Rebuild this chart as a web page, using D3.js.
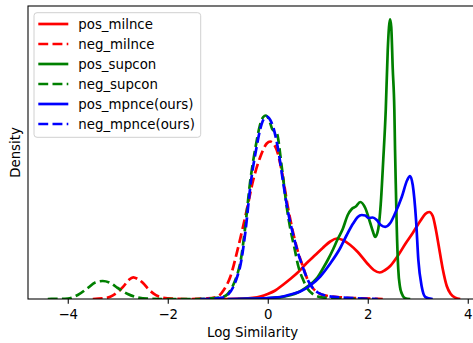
<!DOCTYPE html>
<html>
<head>
<meta charset="utf-8">
<script src="https://cdn.jsdelivr.net/npm/d3@7"></script>
<style>
  body { margin: 0; background: #fff; }
  text { font-family: "DejaVu Sans", sans-serif; }
</style>
</head>
<body>
<svg id="chart" width="473" height="343"></svg>
<script>
// legend order = plotting order
const seriesNames = ["pos_milnce", "neg_milnce", "pos_supcon", "neg_supcon", "pos_mpnce(ours)", "neg_mpnce(ours)"];
const seriesColors = ["#ff0000", "#ff0000", "#008000", "#008000", "#0000ff", "#0000ff"];
const seriesDashed = [false, true, false, true, false, true];
const xTicks = [-4, -2, 0, 2, 4];

// [log similarity, density]
const posMilnce = [[-0.9,0],[-0.5,0.004],[-0.3,0.012],[-0.15,0.025],[0,0.05],[0.15,0.085],[0.3,0.14],[0.45,0.2],[0.6,0.265],[0.78,0.36],[0.95,0.44],[1.1,0.51],[1.25,0.575],[1.38,0.605],[1.5,0.59],[1.65,0.54],[1.8,0.47],[2.0,0.35],[2.12,0.29],[2.24,0.265],[2.35,0.29],[2.45,0.33],[2.6,0.43],[2.75,0.55],[2.9,0.66],[3.05,0.78],[3.15,0.85],[3.23,0.87],[3.3,0.83],[3.36,0.7],[3.42,0.53],[3.5,0.3],[3.58,0.13],[3.66,0.05],[3.75,0.013],[3.85,0]];
const negMilnce = [[-3.5,0],[-3.3,0.006],[-3.15,0.023],[-3.0,0.07],[-2.89,0.123],[-2.78,0.19],[-2.69,0.217],[-2.6,0.2],[-2.49,0.157],[-2.39,0.1],[-2.29,0.057],[-2.19,0.027],[-2.09,0.013],[-1.9,0.003],[-1.6,0],[-1.2,0.006],[-1.0,0.025],[-0.88,0.09],[-0.75,0.22],[-0.59,0.52],[-0.42,0.89],[-0.29,1.19],[-0.15,1.42],[-0.02,1.555],[0.05,1.575],[0.12,1.55],[0.18,1.49],[0.28,1.28],[0.41,0.9],[0.5,0.68],[0.6,0.48],[0.7,0.33],[0.8,0.19],[0.9,0.11],[1.0,0.065],[1.2,0.03],[1.5,0.015],[1.9,0.006],[2.3,0]];
const posSupcon = [[-0.6,0],[-0.2,0.004],[0.1,0.012],[0.3,0.022],[0.45,0.038],[0.6,0.065],[0.75,0.11],[0.91,0.17],[1.0,0.22],[1.11,0.31],[1.2,0.39],[1.31,0.5],[1.4,0.6],[1.5,0.7],[1.6,0.84],[1.68,0.9],[1.76,0.925],[1.85,0.97],[1.95,0.91],[2.05,0.76],[2.1,0.68],[2.15,0.62],[2.21,0.7],[2.26,0.95],[2.31,1.39],[2.36,1.89],[2.4,2.49],[2.425,2.72],[2.446,2.797],[2.47,2.72],[2.5,2.3],[2.532,1.89],[2.546,1.49],[2.565,1.05],[2.58,0.72],[2.61,0.3],[2.645,0.12],[2.68,0.055],[2.75,0.007],[2.85,0]];
const negSupcon = [[-4.4,0],[-4.0,0.005],[-3.8,0.04],[-3.6,0.11],[-3.45,0.165],[-3.3,0.18],[-3.15,0.16],[-3.0,0.11],[-2.8,0.05],[-2.6,0.015],[-2.4,0.003],[-2.0,0],[-1.4,0],[-1.2,0.003],[-0.9,0.02],[-0.8,0.05],[-0.7,0.13],[-0.6,0.26],[-0.55,0.36],[-0.46,0.68],[-0.35,1.18],[-0.24,1.53],[-0.16,1.73],[-0.09,1.82],[-0.04,1.835],[0.02,1.8],[0.09,1.7],[0.18,1.66],[0.28,1.32],[0.38,0.92],[0.46,0.68],[0.53,0.52],[0.61,0.33],[0.71,0.19],[0.8,0.1],[0.9,0.05],[1.0,0.025],[1.2,0.01],[1.5,0.003],[1.9,0]];
const posMpnce = [[-0.8,0],[-0.4,0.003],[0,0.01],[0.3,0.025],[0.45,0.045],[0.65,0.075],[0.85,0.135],[1.05,0.225],[1.25,0.355],[1.45,0.51],[1.58,0.64],[1.71,0.757],[1.8,0.82],[1.88,0.84],[1.95,0.835],[2.02,0.81],[2.1,0.815],[2.18,0.79],[2.26,0.74],[2.35,0.722],[2.45,0.76],[2.55,0.86],[2.68,1.02],[2.79,1.19],[2.846,1.23],[2.9,1.14],[2.966,0.79],[3.012,0.39],[3.08,0.123],[3.146,0.023],[3.212,0.007],[3.3,0]];
const negMpnce = [[-1.35,0],[-1.1,0.004],[-0.9,0.015],[-0.8,0.04],[-0.69,0.12],[-0.6,0.24],[-0.55,0.33],[-0.45,0.66],[-0.34,1.16],[-0.23,1.5],[-0.15,1.7],[-0.08,1.8],[-0.02,1.825],[0.05,1.79],[0.12,1.7],[0.21,1.49],[0.31,1.16],[0.41,0.86],[0.5,0.66],[0.6,0.47],[0.7,0.32],[0.8,0.19],[0.9,0.11],[1.0,0.065],[1.2,0.03],[1.5,0.014],[1.8,0.006],[2.2,0]];

const seriesData = [posMilnce, negMilnce, posSupcon, negSupcon, posMpnce, negMpnce];

const svg = d3.select("#chart");
// the right spine sits just past the picture's edge
const plotLeft = 28, plotRight = 477, plotTop = 6, plotBottom = 299;

const x = d3.scaleLinear().domain([-4.795, 4.185]).range([plotLeft, plotRight]);
const y = d3.scaleLinear().domain([0, 2.93]).range([plotBottom, plotTop]);

svg.append("defs").append("clipPath").attr("id", "plotArea")
  .append("rect")
  .attr("x", plotLeft).attr("y", plotTop)
  .attr("width", plotRight - plotLeft).attr("height", plotBottom - plotTop);

const line = d3.line()
  .x(d => x(d[0]))
  .y(d => y(d[1]))
  .curve(d3.curveMonotoneX);

const lines = svg.append("g").attr("clip-path", "url(#plotArea)");
seriesData.forEach((data, i) => {
  lines.append("path")
    .datum(data)
    .attr("fill", "none")
    .attr("stroke", seriesColors[i])
    .attr("stroke-width", 2.7)
    .attr("stroke-dasharray", seriesDashed[i] ? "9.9,4.3" : null)
    .attr("stroke-linejoin", "round")
    .attr("d", line);
});

// x axis
const xAxis = svg.append("g")
  .attr("transform", `translate(0,${plotBottom})`)
  .call(d3.axisBottom(x)
    .tickValues(xTicks)
    .tickSize(4.7)
    .tickPadding(6)
    .tickFormat(d => d < 0 ? "\u2212" + Math.abs(d) : d));
xAxis.select(".domain").remove();
xAxis.selectAll(".tick line").attr("stroke", "#000").attr("stroke-width", 1.07);
xAxis.selectAll(".tick text")
  .attr("fill", "#000")
  .style("font-size", "13.33px")
  .style("font-family", "DejaVu Sans");

// frame
svg.append("rect")
  .attr("x", plotLeft).attr("y", plotTop)
  .attr("width", plotRight - plotLeft).attr("height", plotBottom - plotTop)
  .attr("fill", "none")
  .attr("stroke", "#000")
  .attr("stroke-width", 1.07);

svg.append("text")
  .attr("x", (plotLeft + plotRight) / 2)
  .attr("y", 337)
  .attr("text-anchor", "middle")
  .style("font-size", "13.33px")
  .text("Log Similarity");

svg.append("text")
  .attr("transform", `translate(19.5,${(plotTop + plotBottom) / 2}) rotate(-90)`)
  .attr("text-anchor", "middle")
  .style("font-size", "13.33px")
  .text("Density");

// legend
const legend = svg.append("g");
legend.append("rect")
  .attr("x", 34).attr("y", 12.7)
  .attr("width", 166.7).attr("height", 124.6)
  .attr("rx", 3)
  .attr("fill", "#fff").attr("fill-opacity", 0.8)
  .attr("stroke", "#d0d0d0").attr("stroke-width", 1);

seriesNames.forEach((name, i) => {
  const yy = 24 + i * 20;
  legend.append("line")
    .attr("x1", 38.3).attr("x2", 68.3)
    .attr("y1", yy).attr("y2", yy)
    .attr("stroke", seriesColors[i])
    .attr("stroke-width", 2.7)
    .attr("stroke-dasharray", seriesDashed[i] ? "9.9,4.3" : null);
  legend.append("text")
    .attr("x", 78.3).attr("y", yy + 4.8)
    .style("font-size", "13.33px")
    .text(name);
});
</script>
</body>
</html>
